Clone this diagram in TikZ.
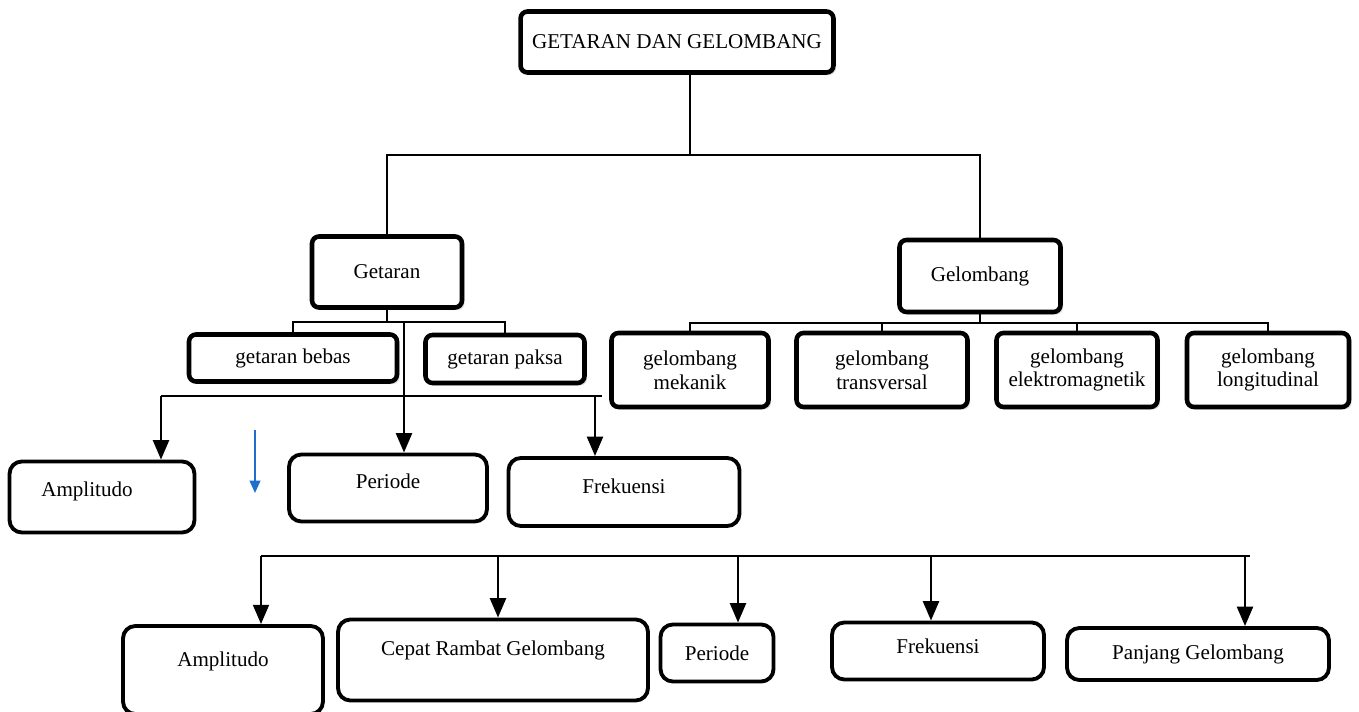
\documentclass[tikz,border=0pt]{standalone}
\usepackage{fontspec}
\setmainfont{Liberation Serif}
\usetikzlibrary{arrows.meta,shadows}

\tikzset{
  box/.style={draw,line width=2.6pt,rounded corners=4pt,fill=white,align=center,
    inner sep=2pt,drop shadow={shadow xshift=1.5pt,shadow yshift=-1.5pt,opacity=0.25}},
  leaf/.style={draw,line width=2.2pt,rounded corners=7pt,fill=white,align=center,inner sep=2pt},
  arr/.style={-{Triangle[length=11pt,width=9pt]}},
}

\begin{document}
\begin{tikzpicture}[x=0.02cm,y=-0.02cm,line width=1.5pt,font=\fontsize{12}{13.5}\selectfont]
  \useasboundingbox (0,0) rectangle (1359,712);

  \node[box,minimum width=6.26cm,minimum height=1.22cm] (gdg) at (677,42) {GETARAN DAN GELOMBANG};
  \node[box,minimum width=3cm,minimum height=1.42cm] (getaran) at (387,272) {Getaran};
  \node[box,minimum width=3.22cm,minimum height=1.44cm] (gelombang) at (980,276) {Gelombang};

  \node[box,minimum width=4.16cm,minimum height=0.94cm] (bebas) at (293,358) {getaran bebas};
  \node[box,minimum width=3.18cm,minimum height=0.96cm] (paksa) at (505,359) {getaran paksa};

  \node[box,minimum width=3.14cm,minimum height=1.48cm] (mekanik) at (690,370) {gelombang\\mekanik};
  \node[box,minimum width=3.42cm,minimum height=1.48cm] (trans) at (882,370) {gelombang\\transversal};
  \node[box,minimum width=3.22cm,minimum height=1.48cm] (elektro) at (1077,370) {gelombang\\elektromagnetik};
  \node[box,minimum width=3.24cm,minimum height=1.48cm] (longi) at (1268,370) {gelombang\\longitudinal};

  \node[leaf,minimum width=3.7cm,minimum height=1.42cm,text depth=9pt] (amp1) at (102,497) {Amplitudo\hspace*{0.6cm}};
  \node[leaf,minimum width=3.96cm,minimum height=1.34cm,text depth=8pt] (per1) at (388,488) {Periode};
  \node[leaf,minimum width=4.62cm,minimum height=1.36cm,text depth=7pt] (frek1) at (624,492) {Frekuensi};

  \node[leaf,minimum width=4cm,minimum height=1.76cm,text depth=12pt] (amp2) at (223,670) {Amplitudo};
  \node[leaf,minimum width=6.2cm,minimum height=1.62cm,text depth=13pt] (cepat) at (493,660) {Cepat Rambat Gelombang};
  \node[leaf,minimum width=2.26cm,minimum height=1.14cm] (per2) at (717,653) {Periode};
  \node[leaf,minimum width=4.24cm,minimum height=1.14cm,text depth=6pt] (frek2) at (938,651) {Frekuensi};
  \node[leaf,minimum width=5.24cm,minimum height=1.04cm] (panjang) at (1198,654) {Panjang Gelombang};

  % tree lines
  \coordinate (j0) at (690,155);
  \draw (gdg.south -| j0) -- (j0);
  \draw (getaran.north) |- (j0) -| (gelombang.north);

  \coordinate (g1) at (387,322);
  \draw (getaran.south) -- (g1);
  \draw (bebas.north) |- (g1) -| (paksa.north);

  \coordinate (w0) at (980,323);
  \draw (gelombang.south) -- (w0);
  \draw (mekanik.north) |- (w0) -| (longi.north);
  \draw (trans.north) -- (trans.north |- w0);
  \draw (elektro.north) -- (elektro.north |- w0);

  % arrows to the getaran quantities
  \coordinate (g2) at (404,322);
  \coordinate (h1) at (161,396);
  \coordinate (h2) at (602,396);
  \coordinate (h3) at (595,396);
  \draw (h1) -- (h2);
  \draw[arr] (g2) -- (g2 |- per1.north);
  \draw[arr] (h1) -- (h1 |- amp1.north);
  \draw[arr] (h3) -- (h3 |- frek1.north);

  \coordinate (s1) at (255,430);
  \coordinate (s2) at (255,493);
  \draw[-{Triangle[length=7pt,width=6pt]},line width=1.2pt,color={rgb,255:red,30;green,112;blue,206}] (s1) -- (s2);

  % arrows to the gelombang quantities
  \coordinate (b1) at (261,556);
  \coordinate (b2) at (1250,556);
  \draw (b1) -- (b2);
  \draw[arr] (b1) -- (b1 |- amp2.north);
  \draw[arr] (498,556) -- (498,556 |- cepat.north);
  \draw[arr] (738,556) -- (738,556 |- per2.north);
  \draw[arr] (931,556) -- (931,556 |- frek2.north);
  \draw[arr] (1245,556) -- (1245,556 |- panjang.north);
\end{tikzpicture}
\end{document}
